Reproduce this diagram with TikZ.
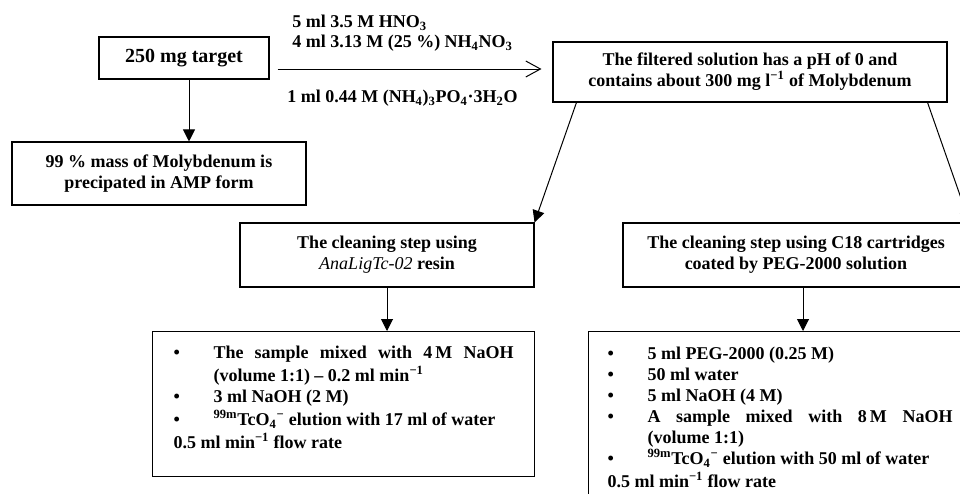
\documentclass[tikz,border=0pt]{standalone}
\usepackage{fontspec}
\setmainfont{Liberation Serif}
\usetikzlibrary{arrows.meta, positioning, calc}

\newcommand{\itm}{\par\noindent\hangindent=30pt\hangafter=1\strut\makebox[30pt][l]{\textbullet}}
\newcommand{\up}[1]{\textsuperscript{#1}}
\newcommand{\dn}[1]{\textsubscript{#1}}
\newcommand{\tcf}{\up{99m}TcO\dn{4}\up{−}}

\begin{document}
\begin{tikzpicture}[
    x=0.75pt, y=-0.75pt,
    every node/.style={font=\fontsize{13.5}{15.75}\selectfont\bfseries, inner sep=0pt},
    box/.style={draw, line width=0.8pt, align=center},
    listbox/.style={draw, line width=0.8pt, anchor=north west, inner ysep=9.25pt},
    reagent/.style={anchor=west},
    flow/.style={line width=0.75pt, -{Triangle[length=9pt, width=9pt]}},
    feed/.style={line width=0.75pt, -{Straight Barb[length=11pt, width=12pt]}},
]
\path[use as bounding box] (0,0) rectangle (960,493);
\clip (0,0) rectangle (960,493);

% ---------------- top row
\node[box, minimum width=127.5pt, minimum height=31.5pt, font=\fontsize{15}{18}\selectfont\bfseries]
    (target) at (184,58) {250 mg target};
\node[box, minimum width=295.5pt, minimum height=45pt] (filtered) at (750,72)
    {The filtered solution has a pH of 0 and\\contains about 300 mg l\up{−1} of Molybdenum};

\node[reagent] (hno) at (292,23) {5 ml 3.5 M HNO\dn{3}};
\node[reagent] (nitrate) at (292,43) {4 ml 3.13 M (25 \%) NH\dn{4}NO\dn{3}};
\node[reagent] (phosphate) at (287,98) {1 ml 0.44 M (NH\dn{4})\dn{3}PO\dn{4}·3H\dn{2}O};

\coordinate (f1) at ([yshift=-8.25pt]target.east);
\draw[feed, shorten >=8.25pt] ([xshift=6pt]f1) -- (f1 -| filtered.west);

% ---------------- precipitate
\node[box, minimum width=220.5pt, minimum height=47.25pt] (precip) at (159,173.5)
    {99 \% mass of Molybdenum is\\precipated in AMP form};
\coordinate (t1) at ([xshift=3.75pt]target.south);
\draw[flow] (t1) -- (t1 |- precip.north);

% ---------------- cleaning steps
\node[box, minimum width=220.5pt, minimum height=48pt] (resin) at (387,255)
    {The cleaning step using\\{\mdseries\itshape AnaLigTc-02} resin};
\node[box, minimum width=259.5pt, minimum height=48pt] (c18) at (796,255)
    {The cleaning step using C18 cartridges\\coated by PEG-2000 solution};

\draw[flow] ([xshift=18pt]filtered.south west) -- (resin.north east);
\draw[flow] ([xshift=-15pt]filtered.south east) -- (c18.north east);

% ---------------- conditions
\node[listbox, inner xsep=15.75pt] (list1) at (152,331) {\parbox[t][90.25pt][t]{255pt}{%
    \itm The sample mixed with 4\,M NaOH\linebreak (volume 1:1) – 0.2 ml min\up{−1}
    \itm 3 ml NaOH (2 M)
    \itm \tcf\ elution with 17 ml of water
    \par\noindent\strut 0.5 ml min\up{−1} flow rate}};
\node[listbox, inner xsep=14.25pt, inner ysep=10pt] (list2) at (588,331) {\parbox[t][121.75pt][t]{258.75pt}{%
    \itm 5 ml PEG-2000 (0.25 M)
    \itm 50 ml water
    \itm 5 ml NaOH (4 M)
    \itm A sample mixed with 8\,M NaOH\linebreak (volume 1:1)
    \itm \tcf\ elution with 50 ml of water
    \par\noindent\strut 0.5 ml min\up{−1} flow rate}};

\draw[flow] (resin.south) -- (resin.south |- list1.north);
\coordinate (c1) at ([xshift=5.25pt]c18.south);
\draw[flow] (c1) -- (c1 |- list2.north);
\end{tikzpicture}
\end{document}
